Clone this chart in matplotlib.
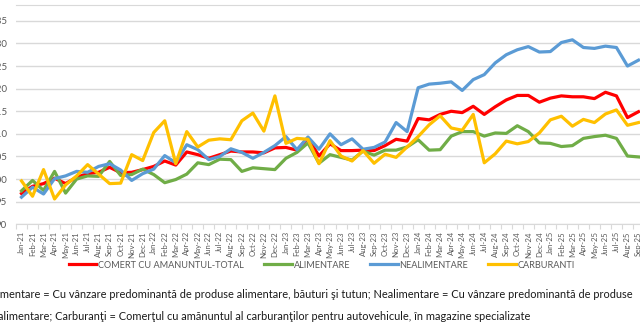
import numpy as np
import matplotlib
matplotlib.use("Agg")
import matplotlib.pyplot as plt
from matplotlib.lines import Line2D
from matplotlib.ticker import FixedLocator

plt.rcParams['font.family'] = ['Lato', 'DejaVu Sans']

# monthly indices, Jan-21 .. Sep-25
months = ["Jan", "Feb", "Mar", "Apr", "May", "Jun", "Jul", "Aug", "Sep", "Oct", "Nov", "Dec"]
labels = [f"{m}-{y}" for y in range(21, 26) for m in months][:57]

total = [96.8, 98.4, 99.0, 100.2, 99.0, 100.4, 101.2, 101.5, 102.6, 101.4, 101.5, 102.1,
         102.8, 104.0, 103.1, 106.0, 105.4, 104.6, 105.4, 106.2, 106.0, 106.0, 105.8, 106.9,
         107.0, 106.4, 109.1, 105.1, 107.8, 106.3, 106.3, 106.4, 106.3, 107.4, 108.8, 108.4,
         113.4, 113.1, 114.3, 115.0, 114.7, 116.1, 114.3, 116.0, 117.5, 118.5, 118.5, 117.0,
         117.9, 118.4, 118.2, 118.2, 117.8, 119.2, 118.4, 113.6, 114.9]

alimentare = [97.4, 99.7, 97.5, 101.7, 96.9, 100.0, 100.7, 100.6, 103.9, 100.8, 101.0, 102.2,
              101.0, 99.2, 99.9, 101.1, 103.6, 103.2, 104.4, 104.3, 101.7, 102.5, 102.3, 102.1,
              104.6, 105.9, 108.0, 103.5, 105.4, 104.8, 104.2, 106.2, 105.3, 106.4, 106.4, 107.1,
              108.7, 106.4, 106.5, 109.5, 110.5, 110.5, 109.5, 110.2, 110.1, 111.8, 110.5, 108.0,
              107.9, 107.2, 107.4, 109.0, 109.4, 109.7, 109.0, 105.1, 104.9]

nealimentare = [96.0, 98.2, 96.7, 100.1, 100.7, 101.7, 101.5, 102.8, 103.4, 102.0, 99.7, 101.2,
                102.2, 105.2, 103.6, 107.6, 106.5, 104.3, 105.0, 106.7, 105.9, 104.6, 105.9, 107.4,
                109.4, 106.5, 109.3, 106.6, 110.0, 107.6, 108.9, 106.6, 107.0, 108.2, 112.5, 110.5,
                120.2, 121.0, 121.2, 121.5, 119.6, 122.0, 123.1, 125.7, 127.5, 128.6, 129.3, 128.1,
                128.2, 130.2, 130.8, 129.1, 128.9, 129.4, 129.1, 125.0, 126.3]

carburanti = [99.6, 96.2, 102.1, 95.6, 98.7, 100.7, 103.2, 101.1, 99.0, 99.1, 105.4, 104.1,
              110.3, 112.9, 103.4, 110.5, 107.1, 108.6, 108.9, 108.7, 112.9, 114.6, 110.6, 118.4,
              107.9, 109.0, 108.8, 103.4, 108.5, 105.1, 104.0, 106.3, 103.5, 105.5, 104.8, 107.1,
              109.4, 112.0, 114.0, 111.3, 110.8, 114.3, 103.6, 105.6, 108.4, 107.8, 108.3, 110.2,
              113.1, 113.9, 111.7, 113.2, 112.5, 114.4, 115.3, 111.9, 112.5]

series = [("COMERT CU AMANUNTUL-TOTAL", total, "#FF0000"),
          ("ALIMENTARE", alimentare, "#70AD47"),
          ("NEALIMENTARE", nealimentare, "#5B9BD5"),
          ("CARBURANTI", carburanti, "#FFC000")]

note1 = ("Alimentare = Cu vânzare predominantă de produse alimentare, băuturi şi tutun; "
         "Nealimentare = Cu vânzare predominantă de produse")
note2 = ("nealimentare; Carburanţi = Comerţul cu amănuntul al carburanţilor pentru "
         "autovehicule, în magazine specializate")

W, H = 640, 330
fig = plt.figure(figsize=(W / 100, H / 100), dpi=100)
ax = fig.add_axes([16 / W, 105.7 / H, 628 / W, (325 - 105.7) / H])

x = np.arange(len(labels))
handles = []
for name, vals, col in series:
    ax.plot(x, vals, color=col, lw=2.3, solid_joinstyle="round", zorder=3)
    handles.append(Line2D([0], [0], color=col, lw=2.3))

grid = "#D9D9D9"
ax.set_xlim(-0.5, len(labels) - 0.5)
ax.set_ylim(90, 138.5)
ax.set_yticks(np.arange(90, 140, 5))
ax.set_yticklabels([str(v) for v in range(90, 140, 5)])
ax.yaxis.grid(True, color=grid, lw=1.0)
ax.set_axisbelow(True)
ax.tick_params(axis="y", length=0, pad=6.5, labelsize=7, labelcolor="#595959")

ax.set_xticks(x)
ax.set_xticklabels(labels, rotation=90)
ax.xaxis.set_minor_locator(FixedLocator(np.arange(-0.5, len(labels), 1)))
ax.tick_params(axis="x", which="major", length=0, pad=5, labelsize=5.6, labelcolor="#595959")
ax.tick_params(axis="x", which="minor", length=3.5, width=0.8, color=grid)

for s in ["left", "right"]:
    ax.spines[s].set_visible(False)
ax.spines["bottom"].set_color(grid)
ax.spines["top"].set_color(grid)

fig.legend(handles, [s[0] for s in series], loc="center", bbox_to_anchor=(322 / W, 1 - 265 / H),
           ncol=4, frameon=False, fontsize=6.6, labelcolor="#595959", handlelength=3.0,
           handletextpad=0.2, columnspacing=2.2)

fig.text(633 / W, 1 - 295 / H, note1, ha="right", va="center", fontsize=7.95, color="#1a1a1a")
fig.text(530 / W, 1 - 317 / H, note2, ha="right", va="center", fontsize=7.95, color="#1a1a1a")

fig.savefig("out.png", dpi=100)
